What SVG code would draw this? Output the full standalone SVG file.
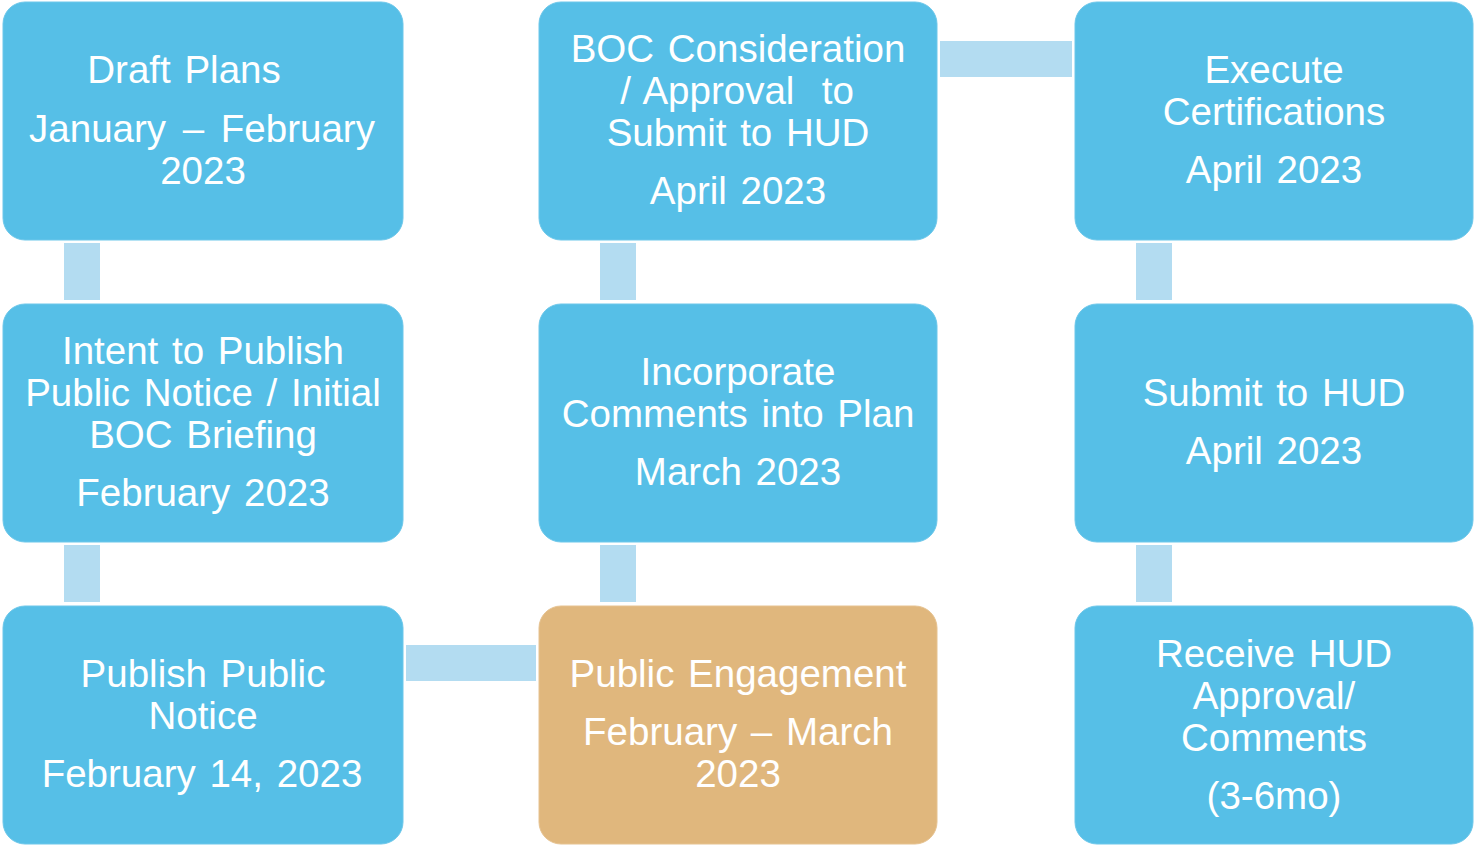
<svg xmlns="http://www.w3.org/2000/svg" width="1476" height="846" viewBox="0 0 1476 846">
  <style>
    .box { fill: #56BFE7; stroke: #6CC7EA; stroke-width: 1; }
    .box.tan { fill: #E0B77D; stroke: #E6C290; }
    .link { fill: #B3DCF1; }
    .lbl { font-family: "Liberation Sans", Arial, sans-serif; font-size: 38.5px; fill: #FFFFFF; text-anchor: middle; word-spacing: 3px; }
  </style>
  <rect width="1476" height="846" fill="#FFFFFF"/>

  <!-- connectors -->
  <g id="connectors">
    <rect class="link" x="64" y="243" width="36" height="57"/>
    <rect class="link" x="64" y="545" width="36" height="57"/>
    <rect class="link" x="406" y="645" width="130" height="36"/>
    <rect class="link" x="600" y="545" width="36" height="57"/>
    <rect class="link" x="600" y="243" width="36" height="57"/>
    <rect class="link" x="940" y="41" width="132" height="36"/>
    <rect class="link" x="1136" y="243" width="36" height="57"/>
    <rect class="link" x="1136" y="545" width="36" height="57"/>
  </g>

  <g id="draft-plans">
    <rect class="box" x="3" y="2" width="400" height="238" rx="22"/>
    <text class="lbl" x="184" y="83">Draft Plans</text>
    <text class="lbl" x="202" y="142" style="word-spacing:6px">January – February</text>
    <text class="lbl" x="203" y="184">2023</text>
  </g>

  <g id="intent-to-publish">
    <rect class="box" x="3" y="304" width="400" height="238" rx="22"/>
    <text class="lbl" x="203" y="364">Intent to Publish</text>
    <text class="lbl" x="203" y="406">Public Notice / Initial</text>
    <text class="lbl" x="203" y="448">BOC Briefing</text>
    <text class="lbl" x="203" y="506">February 2023</text>
  </g>

  <g id="publish-notice">
    <rect class="box" x="3" y="606" width="400" height="238" rx="22"/>
    <text class="lbl" x="203" y="687">Publish Public</text>
    <text class="lbl" x="203" y="729">Notice</text>
    <text class="lbl" x="202" y="787">February 14, 2023</text>
  </g>

  <g id="public-engagement">
    <rect class="box tan" x="539" y="606" width="398" height="238" rx="22"/>
    <text class="lbl" x="738" y="687">Public Engagement</text>
    <text class="lbl" x="738" y="745">February – March</text>
    <text class="lbl" x="738" y="787">2023</text>
  </g>

  <g id="incorporate-comments">
    <rect class="box" x="539" y="304" width="398" height="238" rx="22"/>
    <text class="lbl" x="738" y="385">Incorporate</text>
    <text class="lbl" x="738" y="427">Comments into Plan</text>
    <text class="lbl" x="738" y="485">March 2023</text>
  </g>

  <g id="boc-approval">
    <rect class="box" x="539" y="2" width="398" height="238" rx="22"/>
    <text class="lbl" x="738" y="62">BOC Consideration</text>
    <text class="lbl" x="737" y="104">/ Approval&#160; to</text>
    <text class="lbl" x="738" y="146">Submit to HUD</text>
    <text class="lbl" x="738" y="204">April 2023</text>
  </g>

  <g id="execute-certifications">
    <rect class="box" x="1075" y="2" width="398" height="238" rx="22"/>
    <text class="lbl" x="1274" y="83">Execute</text>
    <text class="lbl" x="1274" y="125">Certifications</text>
    <text class="lbl" x="1274" y="183">April 2023</text>
  </g>

  <g id="submit-to-hud">
    <rect class="box" x="1075" y="304" width="398" height="238" rx="22"/>
    <text class="lbl" x="1274" y="406">Submit to HUD</text>
    <text class="lbl" x="1274" y="464">April 2023</text>
  </g>

  <g id="receive-approval">
    <rect class="box" x="1075" y="606" width="398" height="238" rx="22"/>
    <text class="lbl" x="1274" y="667">Receive HUD</text>
    <text class="lbl" x="1274" y="709">Approval/</text>
    <text class="lbl" x="1274" y="751">Comments</text>
    <text class="lbl" x="1274" y="809">(3-6mo)</text>
  </g>
</svg>
